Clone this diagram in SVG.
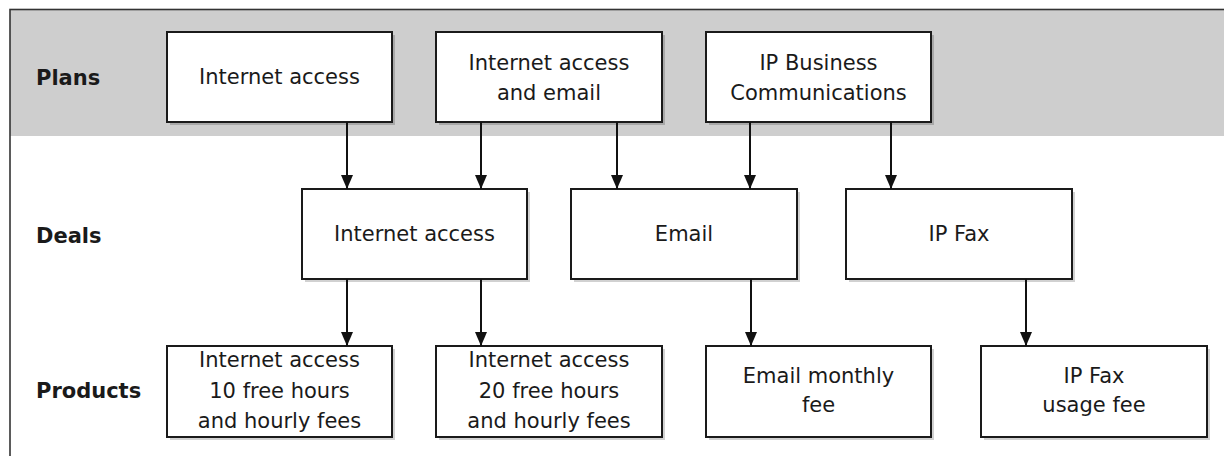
<svg xmlns="http://www.w3.org/2000/svg" width="1224" height="456" viewBox="0 0 1224 456">
<style>
.box{fill:#fff;stroke:#1a1a1a;stroke-width:2}
.sh{fill:#000;fill-opacity:0.18}
.t{font-family:"DejaVu Sans",Verdana,sans-serif;font-size:21px;fill:#1a1a1a;text-anchor:middle}
.lbl{font-family:"DejaVu Sans",Verdana,sans-serif;font-size:21px;font-weight:bold;fill:#1a1a1a}
.c{stroke:#111;stroke-width:2;fill:none;marker-end:url(#ah)}
</style>
<defs>
<marker id="ah" viewBox="0 0 14 12" refX="14" refY="6" markerWidth="14" markerHeight="12" markerUnits="userSpaceOnUse" orient="auto">
<path d="M0,0 L14,6 L0,12 z" fill="#111"/>
</marker>
</defs>
<rect width="1224" height="456" fill="#fff"/>
<rect x="10" y="10" width="1230" height="126" fill="#cecece"/>
<rect x="10" y="9.5" width="1230" height="470" fill="none" stroke="#333" stroke-width="1.6"/>
<g id="lanes">
<text class="lbl" x="36" y="85">Plans</text>
<text class="lbl" x="36" y="243">Deals</text>
<text class="lbl" x="36" y="398">Products</text>
</g>
<g id="plan-internet">
<rect class="sh" x="170" y="35" width="225" height="90"/>
<rect class="box" x="167" y="32" width="225" height="90"/>
<text class="t" x="279.5" y="83.5">Internet access</text>
</g>
<g id="plan-internet-email">
<rect class="sh" x="439" y="35" width="226" height="90"/>
<rect class="box" x="436" y="32" width="226" height="90"/>
<text class="t" x="549" y="70">Internet access</text>
<text class="t" x="549" y="100">and email</text>
</g>
<g id="plan-ipbc">
<rect class="sh" x="709" y="35" width="225" height="90"/>
<rect class="box" x="706" y="32" width="225" height="90"/>
<text class="t" x="818.5" y="70">IP Business</text>
<text class="t" x="818.5" y="100">Communications</text>
</g>
<g id="deal-internet">
<rect class="sh" x="305" y="192" width="225" height="90"/>
<rect class="box" x="302" y="189" width="225" height="90"/>
<text class="t" x="414.5" y="241">Internet access</text>
</g>
<g id="deal-email">
<rect class="sh" x="574" y="192" width="226" height="90"/>
<rect class="box" x="571" y="189" width="226" height="90"/>
<text class="t" x="684" y="241">Email</text>
</g>
<g id="deal-ipfax">
<rect class="sh" x="849" y="192" width="226" height="90"/>
<rect class="box" x="846" y="189" width="226" height="90"/>
<text class="t" x="959" y="241">IP Fax</text>
</g>
<g id="prod-10h">
<rect class="sh" x="170" y="349" width="225" height="91"/>
<rect class="box" x="167" y="346" width="225" height="91"/>
<text class="t" x="279.5" y="367">Internet access</text>
<text class="t" x="279.5" y="397.5">10 free hours</text>
<text class="t" x="279.5" y="428">and hourly fees</text>
</g>
<g id="prod-20h">
<rect class="sh" x="439" y="349" width="226" height="91"/>
<rect class="box" x="436" y="346" width="226" height="91"/>
<text class="t" x="549" y="367">Internet access</text>
<text class="t" x="549" y="397.5">20 free hours</text>
<text class="t" x="549" y="428">and hourly fees</text>
</g>
<g id="prod-email">
<rect class="sh" x="709" y="349" width="225" height="91"/>
<rect class="box" x="706" y="346" width="225" height="91"/>
<text class="t" x="818.5" y="383">Email monthly</text>
<text class="t" x="818.5" y="412">fee</text>
</g>
<g id="prod-ipfax">
<rect class="sh" x="984" y="349" width="226" height="91"/>
<rect class="box" x="981" y="346" width="226" height="91"/>
<text class="t" x="1094" y="383">IP Fax</text>
<text class="t" x="1094" y="412">usage fee</text>
</g>
<g id="connectors">
<path class="c" d="M347,122 V189"/>
<path class="c" d="M481,122 V189"/>
<path class="c" d="M617,122 V189"/>
<path class="c" d="M750,122 V189"/>
<path class="c" d="M891,122 V189"/>
<path class="c" d="M347,279 V346"/>
<path class="c" d="M481,279 V346"/>
<path class="c" d="M751,279 V346"/>
<path class="c" d="M1026,279 V346"/>
</g>
</svg>
